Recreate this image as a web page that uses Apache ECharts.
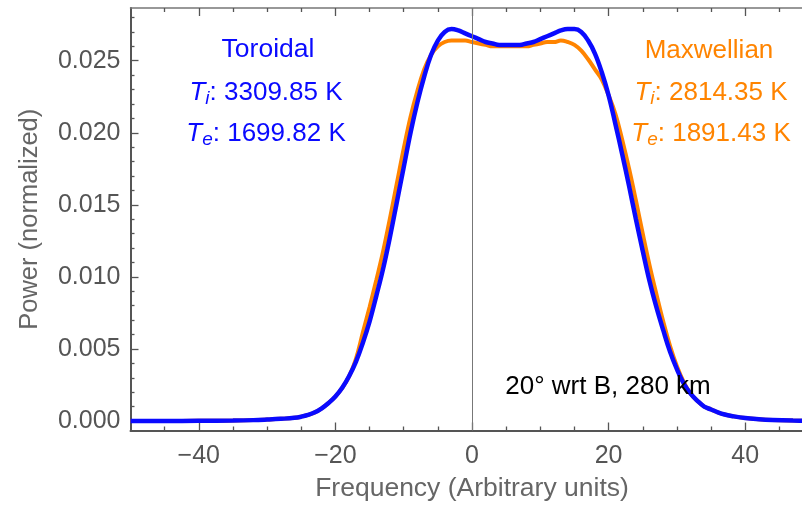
<!DOCTYPE html>
<html><head><meta charset="utf-8">
<script src="https://cdn.jsdelivr.net/npm/echarts@6/dist/echarts.min.js"></script>
<style>html,body{margin:0;padding:0;background:#fff}#c{width:802px;height:509px}</style>
</head><body><div id="c"></div>
<script>
// Frequency samples (arbitrary units)
const freq = [-50,-45,-40,-35,-32,-30,-28,-26,-25,-24,-23,-22,-21,-20,-19,-18,-17,-16,-15,-14,-13,-12,-11,-10,-9,-8,-7,-6,-5,-4,-3,-2,-1,0,1,2,3,4,5,6,7,8,9,10,11,12,13,14,15,16,17,18,19,20,21,22,23,24,25,26,27,28,29,30,31,32,33,34,35,36,37,38,40,42,44,47,50];
// Toroidal spectrum (blue)
const toroidal = [0,0,0.00001,0.00003,0.00006,0.0001,0.00015,0.00022,0.0003,0.00042,0.0006,0.00088,0.00125,0.0017,0.0023,0.0031,0.0041,0.0054,0.0069,0.0087,0.0106,0.0128,0.0152,0.0176,0.0200,0.0221,0.0239,0.0254,0.0264,0.0270,0.0272,0.0271,0.0269,0.0267,0.0265,0.0263,0.0262,0.0261,0.0261,0.0261,0.0261,0.0262,0.0263,0.0265,0.0267,0.0269,0.0271,0.0272,0.0272,0.0270,0.0264,0.0255,0.0242,0.0226,0.0206,0.0185,0.0163,0.0140,0.0118,0.0097,0.0079,0.0063,0.0048,0.0036,0.0026,0.0019,0.0014,0.0010,0.0008,0.0006,0.00045,0.00035,0.0002,0.00012,0.00007,0.00003,0.00001];
// Maxwellian spectrum (orange)
const maxwellian = [0,0,0.00001,0.00003,0.00006,0.0001,0.00015,0.00022,0.0003,0.00042,0.0006,0.00088,0.00125,0.0017,0.0023,0.0031,0.0043,0.0061,0.0079,0.0098,0.0118,0.0141,0.0165,0.0189,0.0211,0.0229,0.0244,0.0254,0.0260,0.0263,0.0264,0.0264,0.0264,0.0263,0.0262,0.0261,0.0260,0.0260,0.0260,0.0260,0.0260,0.0260,0.0261,0.0262,0.0263,0.0263,0.0264,0.0263,0.0261,0.0257,0.0251,0.0244,0.0237,0.0226,0.0213,0.0195,0.0175,0.0153,0.0130,0.0108,0.0088,0.0069,0.0052,0.0038,0.0027,0.0019,0.0014,0.0010,0.0008,0.0006,0.00045,0.00035,0.0002,0.00012,0.00007,0.00003,0.00001];

const xMajorTicks = [-40,-20,0,20,40];
const xMinorTicks = [-45,-35,-30,-25,-15,-10,-5,5,10,15,25,30,35,45];
const yMajorTicks = [0,0.005,0.010,0.015,0.020,0.025];
const yMinorTicks = [0.001,0.002,0.003,0.004,0.006,0.007,0.008,0.009,0.011,0.012,0.013,0.014,0.016,0.017,0.018,0.019,0.021,0.022,0.023,0.024,0.026,0.027,0.028];

const FONT = "'Liberation Sans', Arial, Helvetica, sans-serif";
const BLUE = '#0a0aff';
const ORANGE = '#ff8400';
const AXIS = '#555555';

const toPairs = (xs, ys) => xs.map((x, i) => [x, ys[i]]);

const chart = echarts.init(document.getElementById('c'), null, {renderer: 'canvas'});

function xAxisDef(pos, ticks, len, showLine, showLabel, extra) {
  return Object.assign({
    type: 'value', position: pos, min: -50, max: 50, gridIndex: 0,
    axisLine: {show: showLine, onZero: false, lineStyle: {color: pos === 'top' ? '#777' : AXIS, width: pos === 'top' ? 1.5 : 2}},
    axisTick: {show: true, inside: true, length: len, customValues: ticks, lineStyle: {color: AXIS, width: 1.3}},
    axisLabel: showLabel ? {show: true, customValues: ticks, fontSize: 25, fontFamily: FONT, color: AXIS, margin: 13,
      formatter: v => String(v).replace('-', '\u2212')} : {show: false},
    splitLine: {show: false}, minorTick: {show: false}
  }, extra || {});
}
function yAxisDef(ticks, len, showLine, showLabel, extra) {
  return Object.assign({
    type: 'value', position: 'left', min: -0.00066, max: 0.02866, gridIndex: 0,
    axisLine: {show: showLine, onZero: false, lineStyle: {color: AXIS, width: 2}},
    axisTick: {show: true, inside: true, length: len, customValues: ticks, lineStyle: {color: AXIS, width: 1.3}},
    axisLabel: showLabel ? {show: true, customValues: ticks, fontSize: 25, fontFamily: FONT, color: AXIS, margin: 10,
      formatter: v => v.toFixed(3)} : {show: false},
    splitLine: {show: false}, minorTick: {show: false}
  }, extra || {});
}

function tLine(sub, rest, color) {
  return {
    text: '{it|T}{sub|' + sub + '}{n|' + rest + '}', fill: color, align: 'center', verticalAlign: 'middle',
    rich: {it: {fontSize: 26, fontStyle: 'italic', fontFamily: FONT, fill: color, lineHeight: 31},
           sub: {fontSize: 19, fontStyle: 'italic', fontFamily: FONT, fill: color, lineHeight: 31, verticalAlign: 'bottom'},
           n: {fontSize: 26, fontFamily: FONT, fill: color, lineHeight: 31}}
  };
}

const option = {
  animation: false,
  backgroundColor: '#ffffff',
  grid: {left: 130.5, right: -11.5, top: 8, bottom: 78.5, containLabel: false, outerBoundsMode: 'none'},
  xAxis: [
    xAxisDef('bottom', xMajorTicks, 8, true, true, {
      name: 'Frequency (Arbitrary units)', nameLocation: 'middle', nameGap: 45,
      nameTextStyle: {fontSize: 26.5, fontFamily: FONT, color: '#666'}
    }),
    xAxisDef('bottom', xMinorTicks, 4, false, false),
    xAxisDef('top', xMajorTicks, 8, true, false),
    xAxisDef('top', xMinorTicks, 4, false, false)
  ],
  yAxis: [
    yAxisDef(yMajorTicks, 8, true, true, {
      name: 'Power (normalized)', nameLocation: 'middle', nameGap: 88, nameRotate: 90,
      nameTextStyle: {fontSize: 25.5, fontFamily: FONT, color: '#666'}
    }),
    yAxisDef(yMinorTicks, 4, false, false)
  ],
  series: [
    {
      type: 'line', xAxisIndex: 0, yAxisIndex: 0, data: [], z: 1, silent: true,
      markLine: {silent: true, symbol: ['none', 'none'], label: {show: false},
        lineStyle: {color: '#777', width: 1, type: 'solid'}, data: [{xAxis: 0}]}
    },
    {
      name: 'Maxwellian', type: 'line', xAxisIndex: 0, yAxisIndex: 0, z: 2,
      data: toPairs(freq, maxwellian), smooth: 0.4, showSymbol: false,
      lineStyle: {color: ORANGE, width: 4}
    },
    {
      name: 'Toroidal', type: 'line', xAxisIndex: 0, yAxisIndex: 0, z: 3,
      data: toPairs(freq, toroidal), smooth: 0.4, showSymbol: false,
      lineStyle: {color: BLUE, width: 4.5}
    }
  ],
  graphic: [
    {type: 'text', x: 268, y: 50, z: 10, style: {text: 'Toroidal', fill: BLUE, font: '26.5px ' + FONT, align: 'center', verticalAlign: 'middle'}},
    {type: 'text', x: 266, y: 93, z: 10, style: tLine('i', ': 3309.85 K', BLUE)},
    {type: 'text', x: 266, y: 134, z: 10, style: tLine('e', ': 1699.82 K', BLUE)},
    {type: 'text', x: 709, y: 51, z: 10, style: {text: 'Maxwellian', fill: ORANGE, font: '26px ' + FONT, align: 'center', verticalAlign: 'middle'}},
    {type: 'text', x: 711, y: 93, z: 10, style: tLine('i', ': 2814.35 K', ORANGE)},
    {type: 'text', x: 711, y: 134, z: 10, style: tLine('e', ': 1891.43 K', ORANGE)},
    {type: 'text', x: 608, y: 387, z: 10, style: {text: '20\u00b0 wrt B, 280 km', fill: '#000', font: '26px ' + FONT, align: 'center', verticalAlign: 'middle'}}
  ]
};
chart.setOption(option);
</script>
</body></html>
